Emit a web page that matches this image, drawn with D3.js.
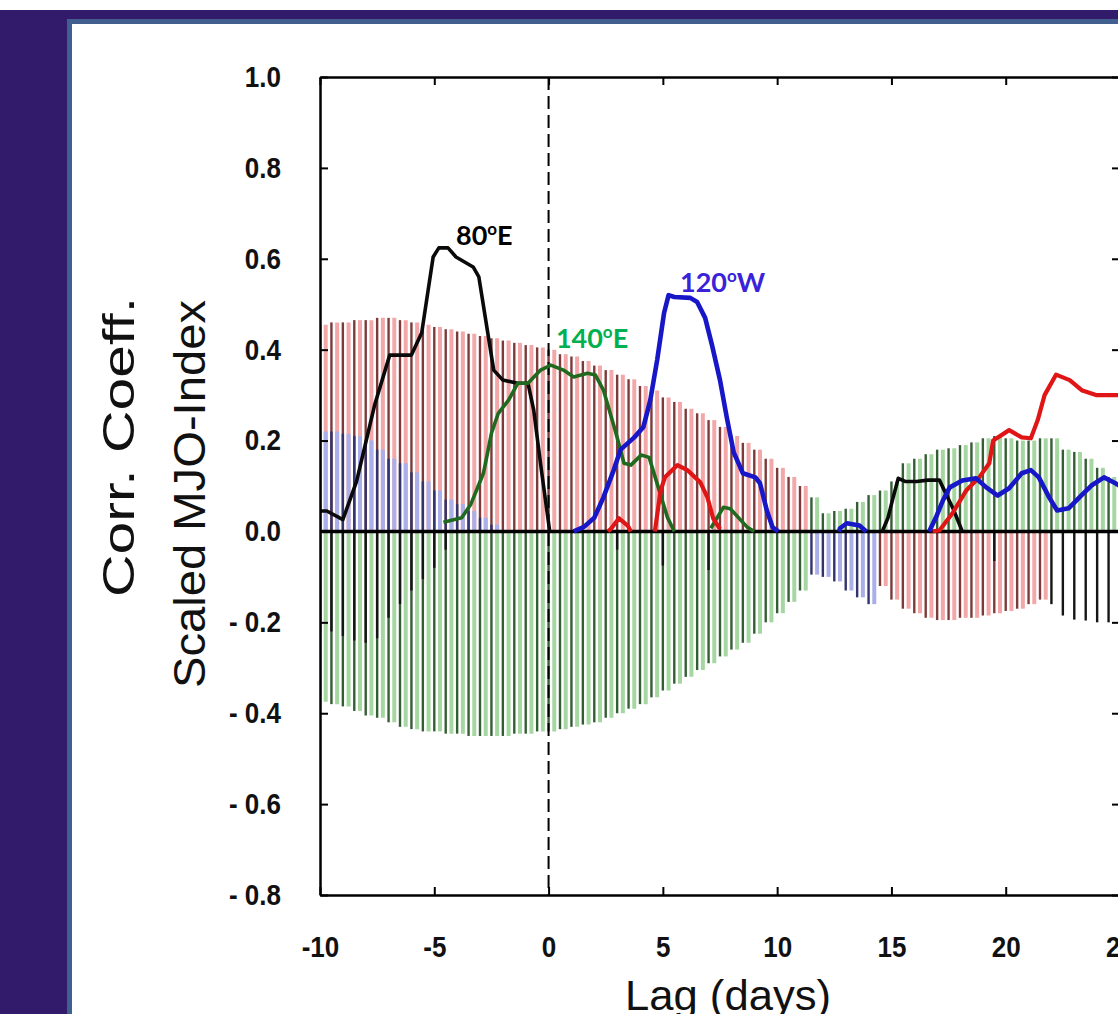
<!DOCTYPE html>
<html>
<head>
<meta charset="utf-8">
<script src="https://cdn.jsdelivr.net/npm/d3@7"></script>
<style>
  body { margin: 0; background: #fff; }
  svg { display: block; }
</style>
</head>
<body>
<div id="chart"></div>
<script>
// ---- data ----
// hatch positions (lag in days, every half day)
const hatchLags = [-10, -9.5, -9, -8.5, -8, -7.5, -7, -6.5, -6, -5.5, -5, -4.5, -4, -3.5, -3, -2.5, -2, -1.5, -1, -0.5,
  0, 0.5, 1, 1.5, 2, 2.5, 3, 3.5, 4, 4.5, 5, 5.5, 6, 6.5, 7, 7.5, 8, 8.5, 9, 9.5,
  10, 10.5, 11, 11.5, 12, 12.5, 13, 13.5, 14, 14.5, 15, 15.5, 16, 16.5, 17, 17.5, 18, 18.5, 19, 19.5,
  20, 20.5, 21, 21.5, 22, 22.5, 23, 23.5, 24, 24.5, 25];

const hatchRed = [.455, .46, .46, .465, .465, .47, .47, .465, .46, .455, .45, .445, .44, .435, .43, .425, .42, .415, .41, .405,
  .40, .39, .385, .375, .365, .355, .345, .335, .32, .31, .295, .285, .27, .26, .245, .23, .21, .195, .18, .16,
  .14, .12, .10, null, null, null, null, null, null, -.12, -.15, -.17, -.18, -.19, -.195, -.195, -.19, -.19, -.185, -.18,
  -.175, -.17, -.16, -.15, null, null, null, null, null, null, null];

const hatchGreen = [-.375, -.38, -.385, -.395, -.405, -.41, -.42, -.43, -.435, -.44, -.44, -.445, -.445, -.45, -.45, -.45, -.45, -.445, -.445, -.44,
  -.44, -.435, -.43, -.425, -.42, -.41, -.40, -.39, -.38, -.365, -.35, -.335, -.32, -.305, -.29, -.275, -.26, -.245, -.225, -.2,
  -.18, -.155, -.13, .075, .04, .045, .05, .065, .08, .09, .11, .15, .16, .17, .18, .183, .19, .196, .205, .21,
  .205, .2, .2, .205, .205, .18, .175, .16, .14, .12, .10];

const hatchBlue = [.22, .22, .215, .21, .2, .18, .16, .15, .13, .11, .09, .07, .06, .045, .03, .015, null, null, null, null,
  null, null, null, null, null, null, null, null, null, null, null, null, null, null, null, null, null, null, null, null,
  null, null, null, -.095, -.1, -.11, -.13, -.145, -.16, null, null, null, null, null, null, null, null, null, null, null,
  null, null, null, null, null, null, null, null, null, null, null];

const hatchBlack = [-.22, -.22, -.23, -.24, -.245, -.235, -.19, -.16, -.13, -.105, -.08, -.04, null, null, null, null, null, null, null, null,
  null, null, null, null, null, null, -.04, null, null, null, -.075, null, null, null, -.085, null, null, null, null, null,
  null, null, null, null, null, null, null, null, null, null, null, null, null, null, null, null, null, null, null, -.065,
  null, null, null, null, -.16, -.185, -.194, -.196, -.2, -.2, -.2];

// curves: [lag, value], null breaks the line
const line80E = [[-10, .045], [-9.7, .045], [-9.0, .026], [-8.4, .11], [-7.6, .28], [-6.95, .388], [-6.0, .388], [-5.55, .437],
  [-5.05, .604], [-4.8, .624], [-4.4, .624], [-4.05, .604], [-3.3, .582], [-3.05, .56], [-2.4, .355], [-2.0, .333],
  [-1.35, .326], [-0.9, .326], [-0.65, .267], [-0.33, .141], [0.05, 0], null,
  [14.6, 0], [14.85, .03], [15.05, .07], [15.3, .117], [15.6, .11], [16.1, .11], [16.6, .113], [17.1, .113],
  [17.25, .097], [17.7, .05], [18.1, 0]];

const line140E = [[-4.6, .02], [-3.8, .03], [-3.4, .06], [-2.85, .128], [-2.5, .216], [-2.2, .26], [-1.75, .289], [-1.35, .326],
  [-0.9, .326], [-0.35, .355], [0.1, .366], [0.65, .355], [1.1, .34], [1.7, .348], [2.05, .344], [2.4, .311],
  [2.95, .216], [3.3, .15], [3.6, .146], [4.05, .168], [4.4, .163], [4.8, .097], [5.2, .031], [5.5, 0], null,
  [7.1, .007], [7.65, .053], [7.95, .05], [8.7, .009], [9.0, 0]];

const line120W = [[1.1, 0], [1.55, .01], [2.0, .03], [2.4, .075], [2.85, .135], [3.15, .18], [3.75, .207], [4.15, .23],
  [4.45, .289], [4.75, .377], [5.05, .48], [5.25, .52], [5.5, .516], [6.2, .514], [6.5, .505], [6.85, .47],
  [7.15, .41], [7.5, .333], [7.8, .25], [8.1, .174], [8.5, .128], [9.05, .119], [9.25, .106], [9.55, .046],
  [9.8, .009], [10.05, 0], null,
  [12.7, 0], [12.75, .007], [13.05, .018], [13.6, .013], [13.9, 0], null,
  [16.65, 0], [16.95, .031], [17.25, .068], [17.55, .097], [18.1, .112], [18.7, .117], [19.15, .097], [19.65, .079],
  [20.15, .095], [20.7, .128], [21.1, .135], [21.45, .119], [21.9, .075], [22.25, .046], [22.75, .051], [23.3, .079],
  [23.75, .101], [24.3, .119], [24.8, .106], [25, .10]];

const lineRed = [[2.6, 0], [2.75, .007], [3.08, .029], [3.46, .013], [3.6, 0], null,
  [4.65, 0], [4.9, .09], [5.1, .12], [5.64, .146], [6.07, .135], [6.64, .108], [6.95, .075], [7.2, .029], [7.5, .005], null,
  [16.8, 0], [17.1, .002], [17.67, .04], [18.27, .09], [18.84, .119], [19.28, .15], [19.45, .2], [20.0, .218],
  [20.15, .223], [20.7, .207], [21.1, .205], [21.4, .245], [21.7, .3], [22.2, .345], [22.8, .333], [23.35, .31],
  [23.95, .3], [25, .3]];

const xTicks = [-10, -5, 0, 5, 10, 15, 20, 25];
const xTickLabels = ['-10', '-5', '0', '5', '10', '15', '20', '25'];
const yTicks = [1.0, 0.8, 0.6, 0.4, 0.2, 0.0, -0.2, -0.4, -0.6, -0.8];
const yTickLabels = ['1.0', '0.8', '0.6', '0.4', '0.2', '0.0', '- 0.2', '- 0.4', '- 0.6', '- 0.8'];

// ---- drawing ----
const W = 1118, H = 1014;
const svg = d3.select('#chart').append('svg').attr('width', W).attr('height', H);

// slide frame
svg.append('rect').attr('x', 0).attr('y', 10).attr('width', W).attr('height', H - 10).attr('fill', '#331b6b');
svg.append('rect').attr('x', 69.5).attr('y', 21.5).attr('width', W + 20).attr('height', H + 20)
  .attr('fill', '#fff').attr('stroke', '#41608f').attr('stroke-width', 5);

const x = d3.scaleLinear().domain([-10, 25]).range([320, 1120]);
const y = d3.scaleLinear().domain([-0.8, 1.0]).range([895, 77]);

svg.append('clipPath').attr('id', 'plot-clip')
  .append('rect').attr('x', x(-10)).attr('y', y(1.0)).attr('width', x(25) - x(-10)).attr('height', y(-0.8) - y(1.0));

const plot = svg.append('g').attr('clip-path', 'url(#plot-clip)');

// vertical hatching for each composite
const hatchSeries = [
  { name: 'green', values: hatchGreen, dark: '#345e34', pale: '#a6d7a3' },
  { name: 'red', values: hatchRed, dark: '#7e3a3a', pale: '#f2a8a8' },
  { name: 'blue', values: hatchBlue, dark: '#33336f', pale: '#aaaee9' },
  { name: 'black', values: hatchBlack, dark: '#151515', pale: null }
];
const bandShift = x(0.25) - x(0);

hatchSeries.forEach(s => {
  const pts = hatchLags.map((lag, i) => ({ lag: lag, v: s.values[i] })).filter(d => d.v != null);
  const g = plot.append('g').attr('class', 'hatch-' + s.name);
  if (s.pale) {
    g.selectAll('line.pale').data(pts).join('line')
      .attr('class', 'pale')
      .attr('x1', d => x(d.lag) + bandShift).attr('x2', d => x(d.lag) + bandShift)
      .attr('y1', y(0)).attr('y2', d => y(d.v))
      .attr('stroke', s.pale).attr('stroke-width', 4);
  }
  g.selectAll('line.dark').data(pts).join('line')
    .attr('class', 'dark')
    .attr('x1', d => x(d.lag)).attr('x2', d => x(d.lag))
    .attr('y1', y(0)).attr('y2', d => y(d.v))
    .attr('stroke', s.dark).attr('stroke-width', 2.4);
});

// lag 0 dashed line
plot.append('line')
  .attr('x1', x(0)).attr('x2', x(0)).attr('y1', y(1.0)).attr('y2', y(-0.8))
  .attr('stroke', '#000').attr('stroke-width', 2).attr('stroke-dasharray', '13,6');

// zero line
plot.append('line')
  .attr('x1', x(-10)).attr('x2', x(25)).attr('y1', y(0)).attr('y2', y(0))
  .attr('stroke', '#000').attr('stroke-width', 3.5);

const line = d3.line().defined(d => d !== null).x(d => x(d[0])).y(d => y(d[1]));
const curves = [
  { data: line80E, color: '#0a0a0a', width: 3.6 },
  { data: line140E, color: '#1f6a1f', width: 3.6 },
  { data: lineRed, color: '#e01515', width: 4.2 },
  { data: line120W, color: '#1717c8', width: 4.6 }
];
curves.forEach(c => {
  plot.append('path').datum(c.data)
    .attr('d', line)
    .attr('fill', 'none')
    .attr('stroke', c.color)
    .attr('stroke-width', c.width)
    .attr('stroke-linejoin', 'round');
});

// axes (ticks point inward)
const axisFont = '"Liberation Sans", Arial, sans-serif';

const yAxis = svg.append('g').attr('transform', `translate(${x(-10)},0)`)
  .call(d3.axisLeft(y).tickValues(yTicks).tickSize(-8).tickSizeOuter(0).tickPadding(39)
    .tickFormat((d, i) => yTickLabels[i]));
const xAxis = svg.append('g').attr('transform', `translate(0,${y(-0.8)})`)
  .call(d3.axisBottom(x).tickValues(xTicks).tickSize(-8).tickSizeOuter(0).tickPadding(36)
    .tickFormat((d, i) => xTickLabels[i]));
const topAxis = svg.append('g').attr('transform', `translate(0,${y(1.0)})`)
  .call(d3.axisTop(x).tickValues(xTicks).tickSize(-8).tickSizeOuter(0).tickFormat(''));
const rightAxis = svg.append('g').attr('transform', `translate(${x(25)},0)`)
  .call(d3.axisRight(y).tickValues(yTicks).tickSize(-8).tickSizeOuter(0).tickFormat(''));

[yAxis, xAxis, topAxis, rightAxis].forEach(a => {
  a.select('.domain').attr('stroke', '#000').attr('stroke-width', 2.5);
  a.selectAll('.tick line').attr('stroke', '#000').attr('stroke-width', 2);
  a.selectAll('.tick text')
    .attr('fill', '#111')
    .attr('transform', 'scale(1,1.13)')
    .style('font-family', axisFont)
    .style('font-weight', 'bold')
    .style('font-size', '26px');
});

// axis titles
svg.append('text')
  .attr('transform', `translate(134,${447}) rotate(-90)`)
  .attr('text-anchor', 'middle')
  .attr('textLength', 300).attr('lengthAdjust', 'spacingAndGlyphs')
  .style('font-family', axisFont).style('font-size', '44px').attr('fill', '#111')
  .text('Corr. Coeff.');
svg.append('text')
  .attr('transform', `translate(205,${494}) rotate(-90)`)
  .attr('text-anchor', 'middle')
  .attr('textLength', 388).attr('lengthAdjust', 'spacingAndGlyphs')
  .style('font-family', axisFont).style('font-size', '44px').attr('fill', '#111')
  .text('Scaled MJO-Index');
svg.append('text')
  .attr('x', 728).attr('y', 1010)
  .attr('text-anchor', 'middle')
  .attr('textLength', 206).attr('lengthAdjust', 'spacingAndGlyphs')
  .style('font-family', axisFont).style('font-size', '42px').attr('fill', '#111')
  .text('Lag (days)');

// curve labels
const curveLabels = [
  { lag: -4.05, v: 0.63, num: '80', dir: 'E', color: '#000000' },
  { lag: 0.32, v: 0.404, num: '140', dir: 'E', color: '#00b050' },
  { lag: 5.75, v: 0.527, num: '120', dir: 'W', color: '#3a22d8' }
];
curveLabels.forEach(l => {
  const t = svg.append('text')
    .attr('x', x(l.lag)).attr('y', y(l.v))
    .attr('fill', l.color)
    .style('font-family', 'Lato, "Open Sans", sans-serif')
    .style('font-weight', 'bold')
    .style('font-size', '27px');
  t.append('tspan').text(l.num);
  t.append('tspan').attr('dy', -10).style('font-size', '17px').text('o');
  t.append('tspan').attr('dy', 10).text(l.dir);
});
</script>
</body>
</html>
